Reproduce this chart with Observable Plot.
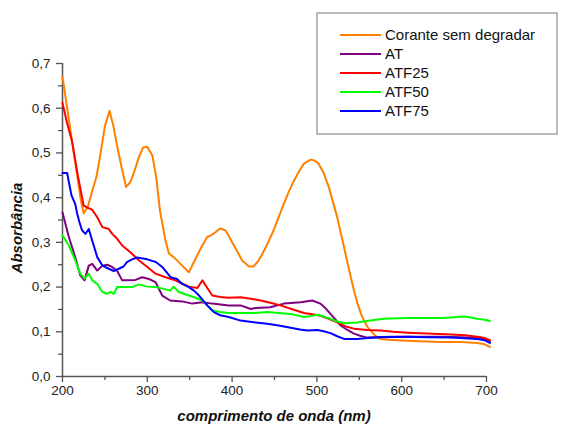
<!DOCTYPE html>
<html>
<head>
<meta charset="utf-8">
<script src="https://cdn.jsdelivr.net/npm/d3@7"></script>
<script src="https://cdn.jsdelivr.net/npm/@observablehq/plot@0.6"></script>
<style>
  body { margin: 0; background: #fff; }
  #chart svg { font-family: "Liberation Sans", Arial, sans-serif; }
</style>
</head>
<body>
<div id="chart"></div>
<script>
// ---- Data ----
const seriesNames = ["Corante sem degradar", "AT", "ATF25", "ATF50", "ATF75"];
const seriesColors = ["#ff8000", "#800080", "#ff0000", "#00ff00", "#0000ff"];

const corante = [[200,0.670],[211,0.53],[222,0.39],[225,0.365],[230,0.38],[235,0.415],[240,0.446],[245,0.50],[250,0.56],[255.5,0.594],[260,0.56],[265,0.51],[270,0.465],[275,0.424],[280,0.435],[285,0.46],[290,0.49],[295,0.512],[300,0.514],[306,0.494],[310.5,0.446],[315,0.37],[321.5,0.304],[325.5,0.275],[331,0.267],[336,0.258],[341,0.248],[349,0.233],[357,0.264],[364,0.29],[370.7,0.312],[374.6,0.315],[380,0.322],[386,0.331],[392,0.327],[396,0.315],[400,0.300],[406,0.28],[412,0.259],[420,0.246],[425,0.246],[430,0.256],[433.6,0.267],[440,0.29],[449,0.327],[455,0.357],[461,0.386],[467,0.414],[473,0.438],[479,0.459],[484.7,0.476],[492.6,0.485],[497,0.483],[502,0.476],[508,0.455],[514,0.424],[519,0.39],[524,0.356],[528,0.322],[532,0.289],[536,0.255],[540,0.222],[544,0.19],[548,0.163],[552,0.14],[555.5,0.125],[560,0.11],[563.4,0.103],[569,0.091],[575,0.084],[585,0.082],[595,0.081],[620,0.079],[646,0.077],[670,0.077],[689,0.075],[698,0.072],[704,0.066]];

const at = [[200,0.367],[207.5,0.312],[215,0.267],[221,0.226],[226,0.215],[231,0.248],[235,0.252],[241,0.237],[247,0.248],[252.7,0.250],[258.6,0.245],[264.5,0.236],[270.4,0.215],[274,0.215],[286,0.216],[294,0.222],[302,0.218],[309.7,0.211],[317.6,0.181],[327,0.170],[341,0.168],[353,0.163],[365,0.166],[376.6,0.163],[396,0.159],[410,0.159],[422,0.151],[427.7,0.153],[445,0.155],[461,0.163],[481,0.166],[494.6,0.170],[504,0.163],[510,0.153],[516,0.140],[522,0.127],[528,0.114],[536,0.104],[543.7,0.096],[551,0.091],[559.5,0.087],[587,0.089],[620,0.089],[646,0.089],[670,0.088],[689,0.086],[698,0.084],[704,0.079]];

const atf25 = [[200,0.612],[205,0.57],[211,0.528],[218,0.45],[225,0.382],[230,0.377],[235,0.373],[241,0.356],[247,0.334],[254.6,0.330],[258.6,0.319],[264.5,0.308],[270.4,0.293],[280,0.278],[290,0.260],[300,0.245],[309.7,0.230],[321.5,0.222],[333,0.215],[341,0.208],[349,0.201],[359,0.198],[365,0.215],[370,0.2],[376.6,0.181],[386,0.178],[396,0.176],[410,0.177],[427.7,0.172],[433.6,0.170],[445,0.165],[457,0.159],[470,0.151],[484.7,0.142],[495,0.139],[504,0.136],[514,0.129],[524,0.121],[534,0.112],[543.7,0.107],[560,0.104],[575,0.103],[590,0.100],[606.7,0.098],[630,0.096],[658,0.094],[675,0.092],[689,0.089],[698,0.086],[704,0.081]];

const atf50 = [[200,0.315],[207.5,0.293],[215,0.260],[221,0.230],[226,0.219],[231,0.230],[235,0.215],[241,0.207],[247,0.189],[252.7,0.185],[256.6,0.189],[260.5,0.185],[264.5,0.200],[274,0.200],[282,0.200],[290,0.206],[300,0.201],[309.7,0.200],[319.5,0.196],[327,0.192],[331,0.201],[337,0.189],[349,0.181],[357,0.176],[365,0.170],[370,0.16],[376.6,0.148],[386,0.144],[396,0.142],[410,0.142],[427.7,0.142],[441.5,0.144],[455,0.142],[469,0.140],[484.7,0.133],[492,0.135],[500.5,0.138],[508,0.134],[516,0.129],[524,0.123],[532,0.119],[547.7,0.121],[563,0.125],[579,0.129],[606.7,0.131],[630,0.131],[646,0.131],[658,0.132],[673.6,0.134],[682,0.132],[689,0.129],[698,0.127],[704,0.124]];

const atf75 = [[200,0.455],[205.5,0.455],[208,0.43],[210.6,0.405],[215,0.386],[217,0.367],[220,0.345],[223,0.327],[227,0.319],[231,0.330],[235,0.304],[241,0.267],[247,0.248],[254.6,0.241],[260.5,0.236],[266.4,0.241],[272,0.246],[276,0.256],[282,0.262],[288,0.266],[300,0.262],[310,0.256],[317.6,0.245],[327.4,0.222],[335,0.218],[341,0.207],[349,0.200],[355,0.192],[361,0.181],[370.7,0.159],[378.5,0.144],[386,0.137],[396,0.133],[410,0.125],[427.7,0.121],[441.5,0.118],[455,0.114],[469,0.109],[480,0.105],[488.7,0.103],[500.5,0.104],[508,0.101],[516,0.097],[524,0.09],[532,0.084],[547.7,0.084],[560,0.086],[575,0.088],[606.7,0.089],[630,0.088],[658,0.087],[689,0.084],[698,0.081],[704,0.075]];

const xMajorTicks = [200, 300, 400, 500, 600, 700];
const xMinorTicks = [250, 350, 450, 550, 650];
const yMajorTicks = [0, 0.1, 0.2, 0.3, 0.4, 0.5, 0.6, 0.7];
const yMinorTicks = [0.05, 0.15, 0.25, 0.35, 0.45, 0.55, 0.65];
const xTitle = "comprimento de onda (nm)";
const yTitle = "Absorbância";

// ---- Chart ----
const allSeries = [corante, at, atf25, atf50, atf75];
const axisColor = "#555";
const fmt = d => d.toFixed(1).replace(".", ",");

const lineMarks = allSeries.map((s, i) =>
  Plot.line(s, {x: d => d[0], y: d => d[1], stroke: seriesColors[i], strokeWidth: 2, strokeLinejoin: "round"})
);

const chart = Plot.plot({
  width: 563,
  height: 424,
  marginLeft: 62,
  marginRight: 77,
  marginTop: 63,
  marginBottom: 48,
  style: {fontFamily: '"Liberation Sans", Arial, sans-serif', background: "#fff"},
  x: {domain: [200, 700]},
  y: {domain: [0, 0.7]},
  marks: [
    Plot.axisX({ticks: xMajorTicks, tickSize: 6, tickPadding: 3, tickFormat: d => String(d), fontSize: 13.5, label: null, stroke: axisColor, fill: "#222", strokeWidth: 1.3, strokeOpacity: 1}),
    Plot.axisX({ticks: xMinorTicks, tickSize: 4, tickFormat: () => "", label: null, stroke: axisColor, strokeWidth: 1.3, strokeOpacity: 1}),
    Plot.axisY({ticks: yMajorTicks, tickSize: 6, tickPadding: 6, tickFormat: fmt, fontSize: 13.5, label: null, stroke: axisColor, fill: "#222", strokeWidth: 1.3, strokeOpacity: 1}),
    Plot.axisY({ticks: yMinorTicks, tickSize: 4, tickFormat: () => "", label: null, stroke: axisColor, strokeWidth: 1.3, strokeOpacity: 1}),
    Plot.ruleX([200], {stroke: axisColor, strokeWidth: 1.5}),
    Plot.ruleY([0], {stroke: axisColor, strokeWidth: 1.5}),
    ...lineMarks
  ]
});

document.getElementById("chart").appendChild(chart);

// ---- Titles and legend ----
const svg = d3.select(chart);
svg.append("text")
  .attr("x", 274).attr("y", 421)
  .attr("text-anchor", "middle")
  .attr("font-size", 15).attr("font-weight", "bold").attr("font-style", "italic")
  .attr("fill", "#111")
  .text(xTitle);
svg.append("text")
  .attr("transform", "translate(22,228) rotate(-90)")
  .attr("text-anchor", "middle")
  .attr("font-size", 15).attr("font-weight", "bold").attr("font-style", "italic")
  .attr("fill", "#111")
  .text(yTitle);

const lg = svg.append("g").attr("text-anchor", "start");
lg.append("rect").attr("x", 317).attr("y", 13).attr("width", 240).attr("height", 121)
  .attr("fill", "#fff").attr("stroke", "#777").attr("stroke-width", 1);
seriesNames.forEach((name, i) => {
  const y = 35 + i * 19;
  lg.append("line").attr("x1", 340).attr("x2", 381).attr("y1", y).attr("y2", y)
    .attr("stroke", seriesColors[i]).attr("stroke-width", 2);
  lg.append("text").attr("x", 385).attr("y", y).attr("dy", "0.35em")
    .attr("text-anchor", "start")
    .attr("font-size", 15).attr("fill", "#111").text(name);
});
</script>
</body>
</html>
